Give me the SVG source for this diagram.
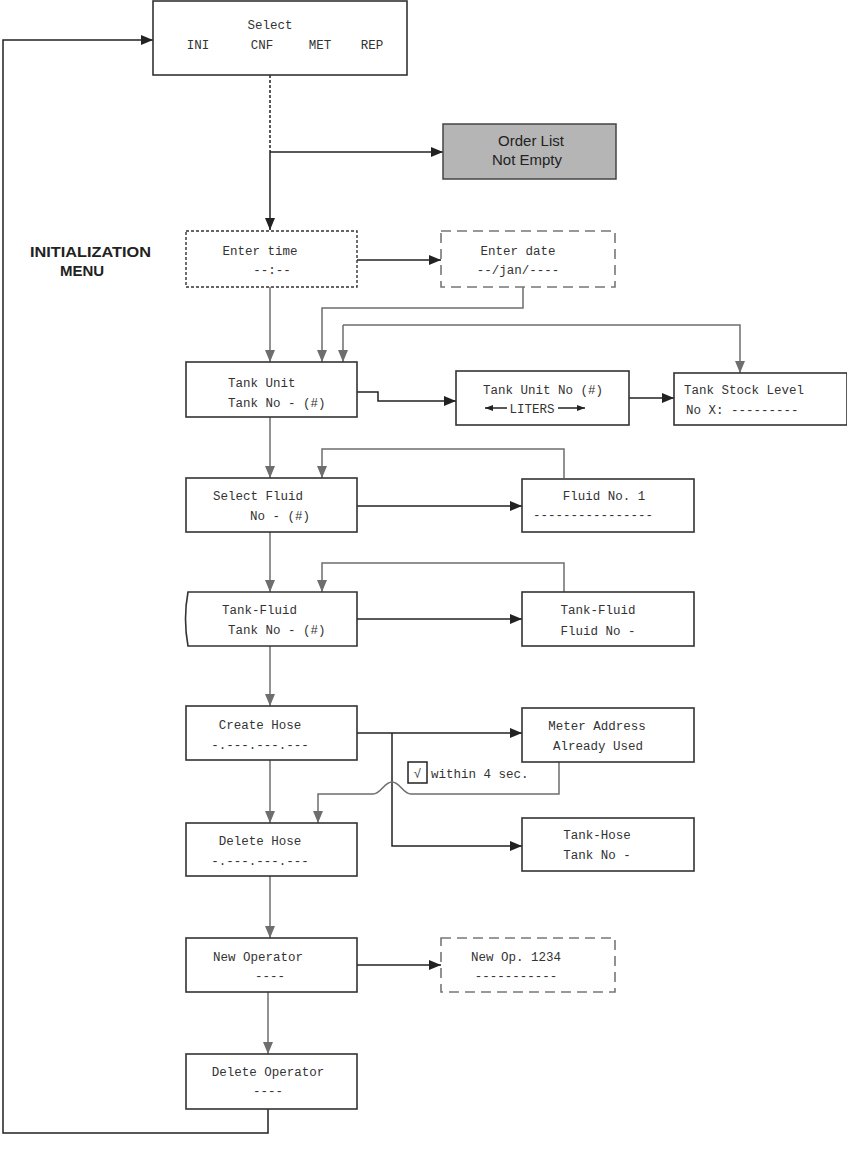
<svg xmlns="http://www.w3.org/2000/svg" width="847" height="1160" viewBox="0 0 847 1160">
<style>
.box{fill:#fff;stroke:#333;stroke-width:1.6}
.dot{fill:#fff;stroke:#333;stroke-width:1.4;stroke-dasharray:3 2}
.dash{fill:#fff;stroke:#777;stroke-width:1.6;stroke-dasharray:10 6}
.t{font-family:"Liberation Mono","DejaVu Sans Mono",monospace;font-size:12.5px;fill:#333}
.s{font-family:"Liberation Sans",Arial,sans-serif;fill:#222}
.k{fill:none;stroke:#222;stroke-width:1.5}
.g{fill:none;stroke:#6e6e6e;stroke-width:1.5}
</style>
<defs>
<marker id="ak" viewBox="0 0 12 10" refX="12" refY="5" markerWidth="12" markerHeight="10" markerUnits="userSpaceOnUse" orient="auto"><path d="M0,0 L12,5 L0,10 Z" fill="#222"/></marker>
<marker id="ag" viewBox="0 0 12 10" refX="12" refY="5" markerWidth="12" markerHeight="10" markerUnits="userSpaceOnUse" orient="auto"><path d="M0,0 L12,5 L0,10 Z" fill="#6e6e6e"/></marker>
<marker id="as" viewBox="0 0 8 6" refX="8" refY="3" markerWidth="8" markerHeight="6" markerUnits="userSpaceOnUse" orient="auto"><path d="M0,0 L8,3 L0,6 Z" fill="#222"/></marker>
</defs>

<g id="connectors">
<path class="k" d="M270,75 V152" stroke-dasharray="3 2"/>
<path class="k" d="M270,152 V230" marker-end="url(#ak)"/>
<path class="k" d="M270,152 H443" marker-end="url(#ak)"/>
<path class="k" d="M357,260 H441" marker-end="url(#ak)"/>
<path class="g" d="M270,287 V362" marker-end="url(#ag)"/>
<path class="g" d="M523,287 V308 H322 V362" marker-end="url(#ag)"/>
<path class="g" d="M343,325 V362" marker-end="url(#ag)"/>
<path class="g" d="M343,325 H740 V373" marker-end="url(#ag)"/>
<path class="k" d="M357,392 H378 V401 H456" marker-end="url(#ak)"/>
<path class="k" d="M629,398 H674" marker-end="url(#ak)"/>
<path class="g" d="M270,417 V478" marker-end="url(#ag)"/>
<path class="g" d="M564,478 V449 H322 V478" marker-end="url(#ag)"/>
<path class="k" d="M357,506 H522" marker-end="url(#ak)"/>
<path class="g" d="M270,532 V592" marker-end="url(#ag)"/>
<path class="g" d="M564,592 V563 H322 V592" marker-end="url(#ag)"/>
<path class="k" d="M357,619 H522" marker-end="url(#ak)"/>
<path class="g" d="M270,646 V706" marker-end="url(#ag)"/>
<path class="k" d="M357,733 H522" marker-end="url(#ak)"/>
<path class="k" d="M392,733 V846 H522" marker-end="url(#ak)"/>
<path class="g" d="M559,762 V794 H411 C403,794 400,782 392,782 C384,782 381,794 373,794 H318 V823" marker-end="url(#ag)"/>
<path class="g" d="M270,760 V823" marker-end="url(#ag)"/>
<path class="g" d="M270,876 V938" marker-end="url(#ag)"/>
<path class="k" d="M357,965 H441" marker-end="url(#ak)"/>
<path class="g" d="M268,992 V1054" marker-end="url(#ag)"/>
<path class="k" d="M268,1109 V1133 H3 V40 H153" marker-end="url(#ak)"/>
</g>

<g id="label-init">
<text class="s" x="30" y="257" font-size="15" font-weight="bold" textLength="121" lengthAdjust="spacingAndGlyphs">INITIALIZATION</text>
<text class="s" x="82" y="276" font-size="15" font-weight="bold" text-anchor="middle">MENU</text>
</g>

<g id="select">
<rect class="box" x="153" y="1" width="254" height="74"/>
<text class="t" x="270" y="29" text-anchor="middle">Select</text>
<text class="t" x="198" y="49" text-anchor="middle">INI</text>
<text class="t" x="262" y="49" text-anchor="middle">CNF</text>
<text class="t" x="320" y="49" text-anchor="middle">MET</text>
<text class="t" x="372" y="49" text-anchor="middle">REP</text>
</g>

<g id="order-list">
<rect x="443" y="124" width="173" height="55" fill="#b5b5b5" stroke="#444" stroke-width="1.5"/>
<text class="s" x="531" y="146" font-size="15" text-anchor="middle">Order List</text>
<text class="s" x="527" y="165" font-size="15" text-anchor="middle">Not Empty</text>
</g>

<g id="enter-time">
<rect class="dot" x="186" y="231" width="171" height="56"/>
<text class="t" x="260" y="255" text-anchor="middle">Enter time</text>
<text class="t" x="272" y="274" text-anchor="middle">--:--</text>
</g>

<g id="enter-date">
<rect class="dash" x="441" y="231" width="174" height="56"/>
<text class="t" x="518" y="255" text-anchor="middle">Enter date</text>
<text class="t" x="518" y="274" text-anchor="middle">--/jan/----</text>
</g>

<g id="tank-unit">
<rect class="box" x="186" y="362" width="171" height="55"/>
<text class="t" x="228" y="387">Tank Unit</text>
<text class="t" x="228" y="407">Tank No - (#)</text>
</g>

<g id="tank-unit-no">
<rect class="box" x="456" y="371" width="173" height="54"/>
<text class="t" x="543" y="394" text-anchor="middle">Tank Unit No (#)</text>
<text class="t" x="532" y="413" text-anchor="middle">LITERS</text>
<path class="k" d="M507,408 H485" marker-end="url(#as)"/>
<path class="k" d="M558,408 H585" marker-end="url(#as)"/>
</g>

<g id="tank-stock">
<rect class="box" x="674" y="373" width="173" height="52"/>
<text class="t" x="684" y="394">Tank Stock Level</text>
<text class="t" x="686" y="414">No X: ---------</text>
</g>

<g id="select-fluid">
<rect class="box" x="186" y="478" width="171" height="54"/>
<text class="t" x="213" y="500">Select Fluid</text>
<text class="t" x="250" y="520">No - (#)</text>
</g>

<g id="fluid-no1">
<rect class="box" x="522" y="479" width="172" height="53"/>
<text class="t" x="604" y="500" text-anchor="middle">Fluid No. 1</text>
<text class="t" x="533" y="519">----------------</text>
</g>

<g id="tank-fluid">
<path class="box" d="M188,592 H357 V646 H188 Q183,619 188,592 Z"/>
<text class="t" x="222" y="614">Tank-Fluid</text>
<text class="t" x="228" y="634">Tank No - (#)</text>
</g>

<g id="tank-fluid-2">
<rect class="box" x="522" y="592" width="172" height="54"/>
<text class="t" x="598" y="614" text-anchor="middle">Tank-Fluid</text>
<text class="t" x="598" y="635" text-anchor="middle">Fluid No -</text>
</g>

<g id="create-hose">
<rect class="box" x="186" y="706" width="171" height="54"/>
<text class="t" x="260" y="729" text-anchor="middle">Create Hose</text>
<text class="t" x="260" y="749" text-anchor="middle">-.---.---.---</text>
</g>

<g id="meter-address">
<rect class="box" x="522" y="708" width="172" height="54"/>
<text class="t" x="597" y="730" text-anchor="middle">Meter Address</text>
<text class="t" x="598" y="750" text-anchor="middle">Already Used</text>
</g>

<g id="check-label">
<rect x="408" y="762" width="19" height="21" fill="#fff" stroke="#222" stroke-width="1.5"/>
<text class="t" x="417.5" y="778" text-anchor="middle" fill="#222">√</text>
<text class="t" x="431" y="778">within 4 sec.</text>
</g>

<g id="delete-hose">
<rect class="box" x="186" y="823" width="171" height="53"/>
<text class="t" x="260" y="845" text-anchor="middle">Delete Hose</text>
<text class="t" x="260" y="865" text-anchor="middle">-.---.---.---</text>
</g>

<g id="tank-hose">
<rect class="box" x="522" y="818" width="172" height="53"/>
<text class="t" x="597" y="839" text-anchor="middle">Tank-Hose</text>
<text class="t" x="597" y="859" text-anchor="middle">Tank No -</text>
</g>

<g id="new-operator">
<rect class="box" x="186" y="938" width="171" height="54"/>
<text class="t" x="258" y="961" text-anchor="middle">New Operator</text>
<text class="t" x="270" y="980" text-anchor="middle">----</text>
</g>

<g id="new-op">
<rect class="dash" x="441" y="938" width="174" height="54"/>
<text class="t" x="516" y="961" text-anchor="middle">New Op. 1234</text>
<text class="t" x="516" y="980" text-anchor="middle">-----------</text>
</g>

<g id="delete-operator">
<rect class="box" x="186" y="1054" width="171" height="55"/>
<text class="t" x="268" y="1076" text-anchor="middle">Delete Operator</text>
<text class="t" x="268" y="1095" text-anchor="middle">----</text>
</g>
</svg>
